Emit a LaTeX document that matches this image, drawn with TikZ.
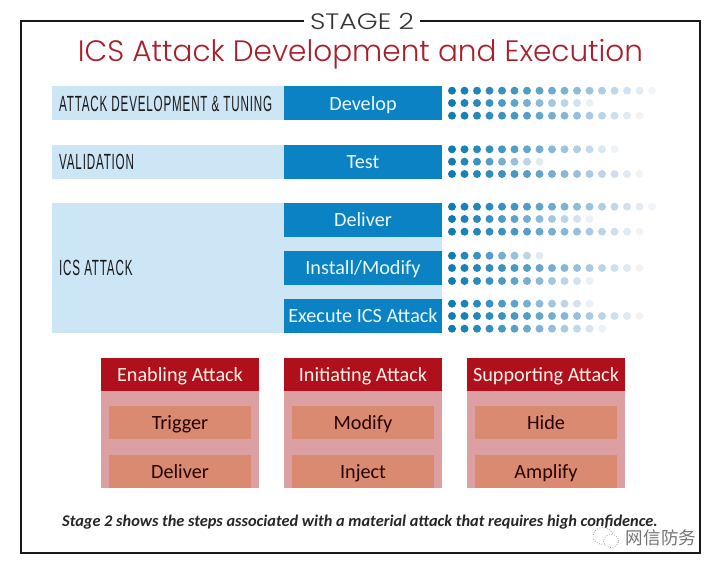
\documentclass[tikz,border=0pt]{standalone}
\usepackage{fontspec}
\setmainfont{Carlito}
\newfontfamily\techfont{Poppins Light}
\newfontfamily\capsfont[LetterSpace=7]{Liberation Sans}
\newfontfamily\cjkfont{Noto Sans CJK SC}
\definecolor{bandblue}{HTML}{CDE6F5}
\definecolor{boxblue}{HTML}{0B82C4}
\definecolor{dotblue}{HTML}{0F7DB4}
\definecolor{dotpale}{HTML}{B4C8E0}
\definecolor{boxred}{HTML}{B0101C}
\definecolor{boxpink}{HTML}{DC9FA2}
\definecolor{boxsalmon}{HTML}{D98A70}
\definecolor{titlered}{HTML}{A8202C}
\newcommand{\dotrow}[2]{%
    \foreach \i in {1,...,#2} {
        \pgfmathsetmacro{\t}{(\i-1)/#2}
        \pgfmathsetmacro{\p}{100*(1-\t)}
        \pgfmathsetmacro{\o}{1-\t*\t*\t}
        \fill[dotblue!\p!dotpale, opacity=\o] ({452+12.5*(\i-1)},#1) circle (0.08cm);
    }
}
\begin{document}
\begin{tikzpicture}[
            x=0.02cm, y=-0.02cm,
            frame_line/.style={draw=black!90, line width=0.04cm},
            stage_label/.style={font=\techfont\fontsize{12.7pt}{13pt}\selectfont, text=black!80, xscale=1.2, fill=white, inner xsep=0.1cm, inner ysep=0pt},
            title_label/.style={font=\techfont\fontsize{16.8pt}{18pt}\selectfont, text=titlered, inner sep=0pt},
            band/.style={fill=bandblue, minimum width=4.64cm, minimum height=0.68cm, inner sep=0pt},
            band_label/.style={font=\capsfont\fontsize{12.5pt}{13pt}\selectfont, xscale=0.53, anchor=west, inner sep=0pt, text=black!90},
            box_text/.style={font=\fontsize{11.5pt}{12pt}\selectfont, text height=10.6pt, text depth=3pt, inner sep=0pt},
            step_box/.style={box_text, fill=boxblue, text=cyan!8, minimum width=3.16cm, minimum height=0.68cm},
            head_box/.style={box_text, fill=boxred, text=red!5!orange!8, minimum width=3.16cm, minimum height=0.68cm},
            body_box/.style={fill=boxpink, minimum width=3.16cm, minimum height=1.94cm, inner sep=0pt},
            item_box/.style={box_text, fill=boxsalmon, text=black!85!red, minimum width=2.86cm, minimum height=0.66cm}
        ]
        \useasboundingbox (0,0) rectangle (720,570);

        % Outer frame and headings
        \draw[frame_line] (21,21) rectangle (700,553);
        \node[stage_label] (stage) at (362,21) {STAGE 2};
        \node[title_label] (title) at (360.5,54) {ICS Attack Development and Execution};

        % Light bands on the left
        \node[band] (band_develop) at (168,103.5) {};
        \node[band_label] (label_develop) at (59,103.5) {ATTACK DEVELOPMENT \& TUNING};
        \node[band] (band_test) at (168,162) {};
        \node[band_label] (label_test) at (59,162) {VALIDATION};
        \node[band, minimum width=7.8cm, minimum height=2.6cm] (band_attack) at (247,268) {};
        \node[band_label] (label_attack) at (59,268) {ICS ATTACK};

        % Blue steps
        \node[step_box] (develop) at (363,103.5) {Develop};
        \node[step_box] (test) at (363,162) {Test};
        \node[step_box] (deliver) at (363,220) {Deliver};
        \node[step_box] (install) at (363,268) {Install/Modify};
        \node[step_box] (execute) at (363,316) {Execute ICS Attack};

        % Fading dots
        \dotrow{90.7}{17} \dotrow{103}{12} \dotrow{115.7}{16}
        \dotrow{149.3}{14} \dotrow{161.7}{8} \dotrow{174}{16}
        \dotrow{206.7}{17} \dotrow{219}{12} \dotrow{231.7}{16}
        \dotrow{255.7}{8} \dotrow{268}{16} \dotrow{281}{12}
        \dotrow{303.7}{12} \dotrow{316}{16} \dotrow{328.7}{13}

        % Enabling attack
        \node[body_box] (enabling_body) at (180,439.5) {};
        \node[head_box] (enabling) at (180,374.5) {Enabling Attack};
        \node[item_box] (trigger) at (180,422.5) {Trigger};
        \node[item_box] (deliver_item) at (180,471.5) {Deliver};

        % Initiating attack
        \node[body_box] (initiating_body) at (363,439.5) {};
        \node[head_box] (initiating) at (363,374.5) {Initiating Attack};
        \node[item_box] (modify) at (363,422.5) {Modify};
        \node[item_box] (inject) at (363,471.5) {Inject};

        % Supporting attack
        \node[body_box] (supporting_body) at (546,439.5) {};
        \node[head_box] (supporting) at (546,374.5) {Supporting Attack};
        \node[item_box] (hide) at (546,422.5) {Hide};
        \node[item_box] (amplify) at (546,471.5) {Amplify};

        % Caption and watermark
        \node[font=\bfseries\itshape\fontsize{9.3pt}{10pt}\selectfont, text=black!85, inner sep=0pt] (caption) at (360,522) {Stage 2 shows the steps associated with a material attack that requires high confidence.};
        \draw[black!45, densely dotted, fill=white] (603,536) ellipse (0.2cm and 0.17cm);
        \draw[black!45, densely dotted, fill=white] (611,541) ellipse (0.15cm and 0.13cm);
        \node[font=\cjkfont\fontsize{10pt}{11pt}\selectfont, text=black!55, inner sep=0pt] (mark) at (661,538) {网信防务};
\end{tikzpicture}
\end{document}
